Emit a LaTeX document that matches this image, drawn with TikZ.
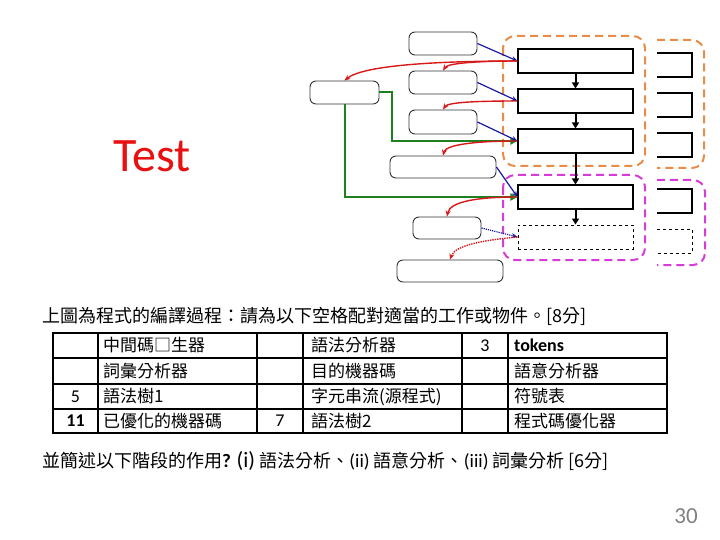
\documentclass[tikz,border=0pt]{standalone}
\usepackage{fontspec}
\setmainfont{Carlito}
\newfontfamily\cjk{Noto Sans CJK TC}
\usetikzlibrary{arrows.meta}
\definecolor{oranged}{RGB}{232,140,72}
\definecolor{magd}{RGB}{216,60,216}
\definecolor{blueA}{RGB}{25,25,165}
\definecolor{redA}{RGB}{215,25,25}
\definecolor{greenA}{RGB}{30,128,30}
\definecolor{testred}{RGB}{232,16,16}
\begin{document}
\begin{tikzpicture}[x=1pt,y=-1pt,
  rbox/.style={draw=black!80, line width=0.9pt, rounded corners=6pt, fill=white, inner sep=0pt},
  sbox/.style={draw=black, line width=1.1pt, inner sep=0pt, minimum width=115pt, minimum height=24pt},
  dbox/.style={sbox, dashed, line width=0.9pt},
  bluearr/.style={draw=blueA, line width=1.2pt, -{Stealth[length=6pt,width=5pt]}},
  redarr/.style={draw=redA, line width=1.4pt, -{Stealth[length=6pt,width=5pt]}},
  greenarr/.style={draw=greenA, line width=2pt, -{Triangle[length=7pt,width=7pt]}},
  blackarr/.style={draw=black, line width=2pt, -{Triangle[length=6pt,width=7pt]}},
  odash/.style={draw=oranged, line width=2pt, dash pattern=on 8pt off 5pt, rounded corners=12pt},
  mdash/.style={draw=magd, line width=2pt, dash pattern=on 8pt off 5pt, rounded corners=12pt},
  part/.style={draw=black, line width=1.1pt},
  tcjk/.style={font=\cjk\fontsize{17}{20}\selectfont, anchor=west, inner sep=0pt},
  qcjk/.style={font=\cjk\fontsize{18}{21}\selectfont, anchor=west, inner sep=0pt},
  tnum/.style={font=\fontsize{18}{21}\selectfont, inner sep=0pt},
  grid/.style={draw=black, line width=1.5pt}
]
\useasboundingbox (0,0) rectangle (720,540);

% dashed group frames
\draw[odash] (503,36) rectangle (645,166);
\draw[odash] (657,40) -- (704,40) -- (704,168) -- (657,168);
\draw[mdash] (503,175) rectangle (645,260);
\draw[mdash] (657,180) -- (705,180) -- (705,265) -- (657,265);

% right partial boxes
\draw[part] (657,53) -- (692,53) -- (692,77) -- (657,77);
\draw[part] (657,93) -- (692,93) -- (692,117) -- (657,117);
\draw[part] (657,133) -- (692,133) -- (692,157) -- (657,157);
\draw[part] (657,189) -- (692,189) -- (692,213) -- (657,213);
\draw[part, dashed, line width=0.9pt] (657,229) -- (692,229) -- (692,253) -- (657,253);

% central boxes
\node[sbox] (R1) at (575.5,61) {};
\node[sbox] (R2) at (575.5,101) {};
\node[sbox] (R3) at (575.5,141) {};
\node[sbox] (R4) at (575.5,197) {};
\node[dbox] (R5) at (575.5,237) {};

% left rounded boxes
\node[rbox, minimum width=68pt, minimum height=23pt] (A) at (443,43.5) {};
\node[rbox, minimum width=68pt, minimum height=23pt] (B) at (443,82.5) {};
\node[rbox, minimum width=68pt, minimum height=24pt] (C) at (443,122) {};
\node[rbox, minimum width=106pt, minimum height=22pt] (D) at (443,167) {};
\node[rbox, minimum width=69pt, minimum height=23pt] (E) at (344.5,92.5) {};
\node[rbox, minimum width=68pt, minimum height=22pt] (F) at (447,228) {};
\node[rbox, minimum width=106pt, minimum height=22pt] (G) at (450,271) {};

% black flow arrows
\draw[blackarr] (R1.south) -- (R2.north);
\draw[blackarr] (R2.south) -- (R3.north);
\draw[blackarr] (R3.south) -- (R4.north);
\draw[blackarr] (R4.south) -- (R5.north);

% green arrows
\draw[greenarr] (E.east) -- ++(13,0) |- (R3.west);
\draw[greenarr] (E.south) |- (R4.west);

% blue arrows
\draw[bluearr] (A.east) -- (R1.west);
\draw[bluearr] (B.east) -- (R2.west);
\draw[bluearr] (C.east) -- (R3.west);
\draw[bluearr] (D.east) -- (R4.west);
\draw[bluearr, densely dotted] (F.east) -- (R5.west);

% red arrows
\draw[redarr] (R1.west) .. controls (450,61) and (365,64) .. (E.north);
\draw[redarr] (R1.west) .. controls (480,61) and (448,63) .. (B.north);
\draw[redarr] (R2.west) .. controls (480,101) and (448,102) .. (C.north);
\draw[redarr] (R3.west) .. controls (480,141) and (446,144) .. (D.north);
\draw[redarr] (R4.west) .. controls (480,197) and (450,201) .. (F.north);
\draw[redarr, densely dotted] (R5.west) .. controls (485,240) and (455,245) .. (G.north);

% Test label
\node[font=\fontsize{48}{52}\selectfont, text=testred, anchor=base west, inner sep=0pt] (test) at (113,171.5) {Test};

% question line
\node[qcjk] (q1) at (42,316) {上圖為程式的編譯過程：請為以下空格配對適當的工作或物件。[8分]};

% table grid
\draw[grid] (53,333) rectangle (667,433);
\foreach \yy in {358,384,409} \draw[grid] (53,\yy) -- (667,\yy);
\foreach \xx in {98,257,303,462,508} \draw[grid] (\xx,333) -- (\xx,433);

% table texts
\node[tcjk] (c21) at (103,345.5) {中間碼□生器};
\node[tcjk] (c22) at (103,371) {詞彙分析器};
\node[tcjk] (c23) at (103,396.5) {語法樹1};
\node[tcjk] (c24) at (103,421) {已優化的機器碼};
\node[tnum] (c13) at (75.5,396.5) {5};
\node[tnum, font=\bfseries\fontsize{18}{21}\selectfont] (c14) at (75.5,421) {11};
\node[tnum] (c34) at (280,421) {7};
\node[tcjk] (c41) at (311,345.5) {語法分析器};
\node[tcjk] (c42) at (311,371) {目的機器碼};
\node[tcjk] (c43) at (311,396.5) {字元串流(源程式)};
\node[tcjk] (c44) at (311,421) {語法樹2};
\node[tnum] (c51) at (485,345.5) {3};
\node[tnum, font=\bfseries\fontsize{18}{21}\selectfont, anchor=west] (c61) at (514,345.5) {tokens};
\node[tcjk] (c62) at (514,371) {語意分析器};
\node[tcjk] (c63) at (514,396.5) {符號表};
\node[tcjk] (c64) at (514,421) {程式碼優化器};

% second question line
\node[anchor=west, inner sep=0pt, font=\fontsize{19}{22}\selectfont] (q2) at (42,461)
  {{\cjk\fontsize{18}{21}\selectfont 並簡述以下階段的作用}\textbf{?} {\fontsize{22}{24}\selectfont (i)} {\cjk\fontsize{18}{21}\selectfont 語法分析、}(ii) {\cjk\fontsize{18}{21}\selectfont 語意分析、}(iii) {\cjk\fontsize{18}{21}\selectfont 詞彙分析 [6分]}};

% page number
\node[font=\fontsize{23}{25}\selectfont, text=black!50, inner sep=0pt] (pg) at (686,516) {30};
\end{tikzpicture}
\end{document}
